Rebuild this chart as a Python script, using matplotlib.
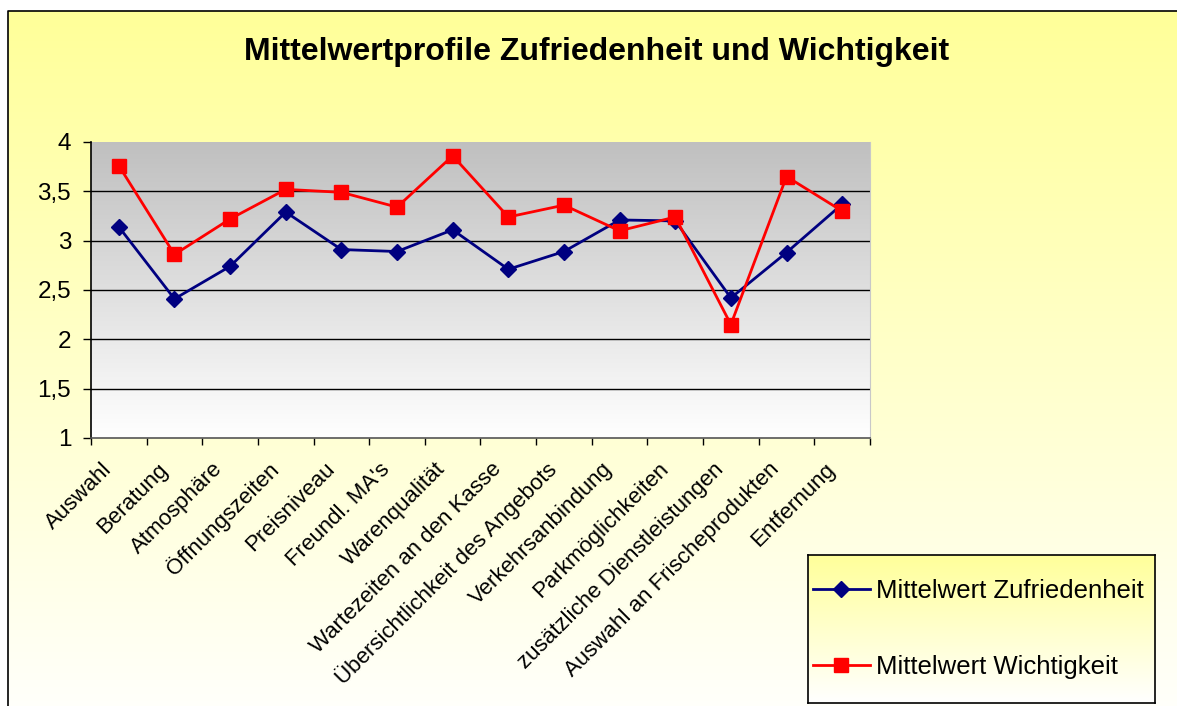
import numpy as np
import matplotlib.pyplot as plt
import matplotlib.transforms as mtransforms
from matplotlib.lines import Line2D

plt.rcParams['font.family'] = ['Liberation Sans', 'DejaVu Sans']

kategorien = ['Auswahl', 'Beratung', 'Atmosphäre', 'Öffnungszeiten', 'Preisniveau',
              "Freundl. MA's", 'Warenqualität', 'Wartezeiten an den Kasse',
              'Übersichtlichkeit des Angebots', 'Verkehrsanbindung', 'Parkmöglichkeiten',
              'zusätzliche Dienstleistungen', 'Auswahl an Frischeprodukten', 'Entfernung']
zufriedenheit = [3.14, 2.41, 2.74, 3.29, 2.91, 2.89, 3.11, 2.71, 2.89, 3.21, 3.20, 2.42, 2.88, 3.37]
wichtigkeit = [3.76, 2.86, 3.22, 3.52, 3.49, 3.34, 3.86, 3.24, 3.36, 3.10, 3.24, 2.15, 3.65, 3.30]
y_ticks = [1, 1.5, 2, 2.5, 3, 3.5, 4]
y_labels = ['1', '1,5', '2', '2,5', '3', '3,5', '4']

W, H = 1177, 706
fig = plt.figure(figsize=(W / 100, H / 100), dpi=100)
fig.patch.set_facecolor('white')

# yellow chart area with a soft fade towards the bottom
bg = fig.add_axes([0, 0, 1, 1], zorder=-10)
bg.set_xlim(0, W)
bg.set_ylim(H, 0)
bg.axis('off')
grad = np.linspace(0, 1, 256)[:, None]
yellow = np.array([1.0, 1.0, 0.6])
white = np.array([1.0, 1.0, 0.985])
img = (yellow * (1 - grad[..., None]) + white * grad[..., None]).repeat(2, axis=1)
bg.imshow(img, extent=[8, W + 5, H + 5, 11], aspect='auto', interpolation='bilinear')
bg.plot([8, 8, W + 5], [H + 5, 11, 11], color='black', lw=1.2)

fig.text(0.507, 1 - 52 / H, 'Mittelwertprofile Zufriedenheit und Wichtigkeit',
         ha='center', va='center', fontsize=23, fontweight='bold')

ax = fig.add_axes([91 / W, 1 - 438 / H, 779 / W, 296 / H])
x = np.arange(len(kategorien))
ax.set_xlim(-0.5, len(kategorien) - 0.5)
ax.set_ylim(1, 4)

# gray-to-white plot area
pg = np.linspace(0, 1, 256)[:, None]
gray = np.array([0.75, 0.75, 0.75])
pimg = (gray * (1 - pg[..., None]) + np.ones(3) * pg[..., None]).repeat(2, axis=1)
ax.imshow(pimg, extent=[-0.5, len(kategorien) - 0.5, 1, 4], aspect='auto',
          interpolation='bilinear', zorder=0)

for yv in y_ticks[1:-1]:
    ax.axhline(yv, color='black', lw=1.0, zorder=1)

ax.plot(x, zufriedenheit, color='#000080', lw=2.0, marker='D', markersize=8.5,
        label='Mittelwert Zufriedenheit', zorder=3)
ax.plot(x, wichtigkeit, color='#FF0000', lw=2.0, marker='s', markersize=10,
        label='Mittelwert Wichtigkeit', zorder=4)

ax.set_yticks(y_ticks)
ax.set_yticklabels(y_labels, fontsize=17.5)
ax.tick_params(axis='y', length=5.8, width=1, pad=8.5, colors='black')

ax.set_xticks(x)
ax.set_xticklabels(kategorien, rotation=45, ha='right', va='center_baseline',
                   rotation_mode='anchor', fontsize=16)
ax.set_xticks(np.arange(-0.5, len(kategorien)), minor=True)
ax.tick_params(axis='x', which='major', length=0, pad=19)
ax.tick_params(axis='x', which='minor', length=5, width=1, color='black')
shift = mtransforms.ScaledTranslation(-0.12, 0, fig.dpi_scale_trans)
for lbl in ax.get_xticklabels():
    lbl.set_transform(lbl.get_transform() + shift)

ax.spines['left'].set_color('black')
ax.spines['bottom'].set_color('#555555')
ax.spines['right'].set_color('#c8c8c8')
ax.spines['top'].set_visible(False)
for s in ['left', 'bottom']:
    ax.spines[s].set_linewidth(1.2)

# legend box with its own fade
lax = fig.add_axes([808 / W, 1 - 703 / H, 347 / W, 148 / H])
lg = np.linspace(0, 1, 256)[:, None]
limg = (yellow * (1 - lg[..., None]) + np.ones(3) * lg[..., None]).repeat(2, axis=1)
lax.imshow(limg, extent=[0, 1, 0, 1], aspect='auto', interpolation='bilinear')
lax.set_xticks([])
lax.set_yticks([])
for s in lax.spines.values():
    s.set_color('black')
    s.set_linewidth(1.2)
handles = [Line2D([], [], color='#000080', lw=2.0, marker='D', markersize=8.5),
           Line2D([], [], color='#FF0000', lw=2.0, marker='s', markersize=10)]
lax.legend(handles, ['Mittelwert Zufriedenheit', 'Mittelwert Wichtigkeit'],
           loc='center left', frameon=False, fontsize=18.5, labelspacing=2.0,
           handlelength=2.2, handletextpad=0.25, borderaxespad=0.0, borderpad=0.2,
           bbox_to_anchor=(0.0, 0.5))

fig.savefig('out.png', dpi=100)
